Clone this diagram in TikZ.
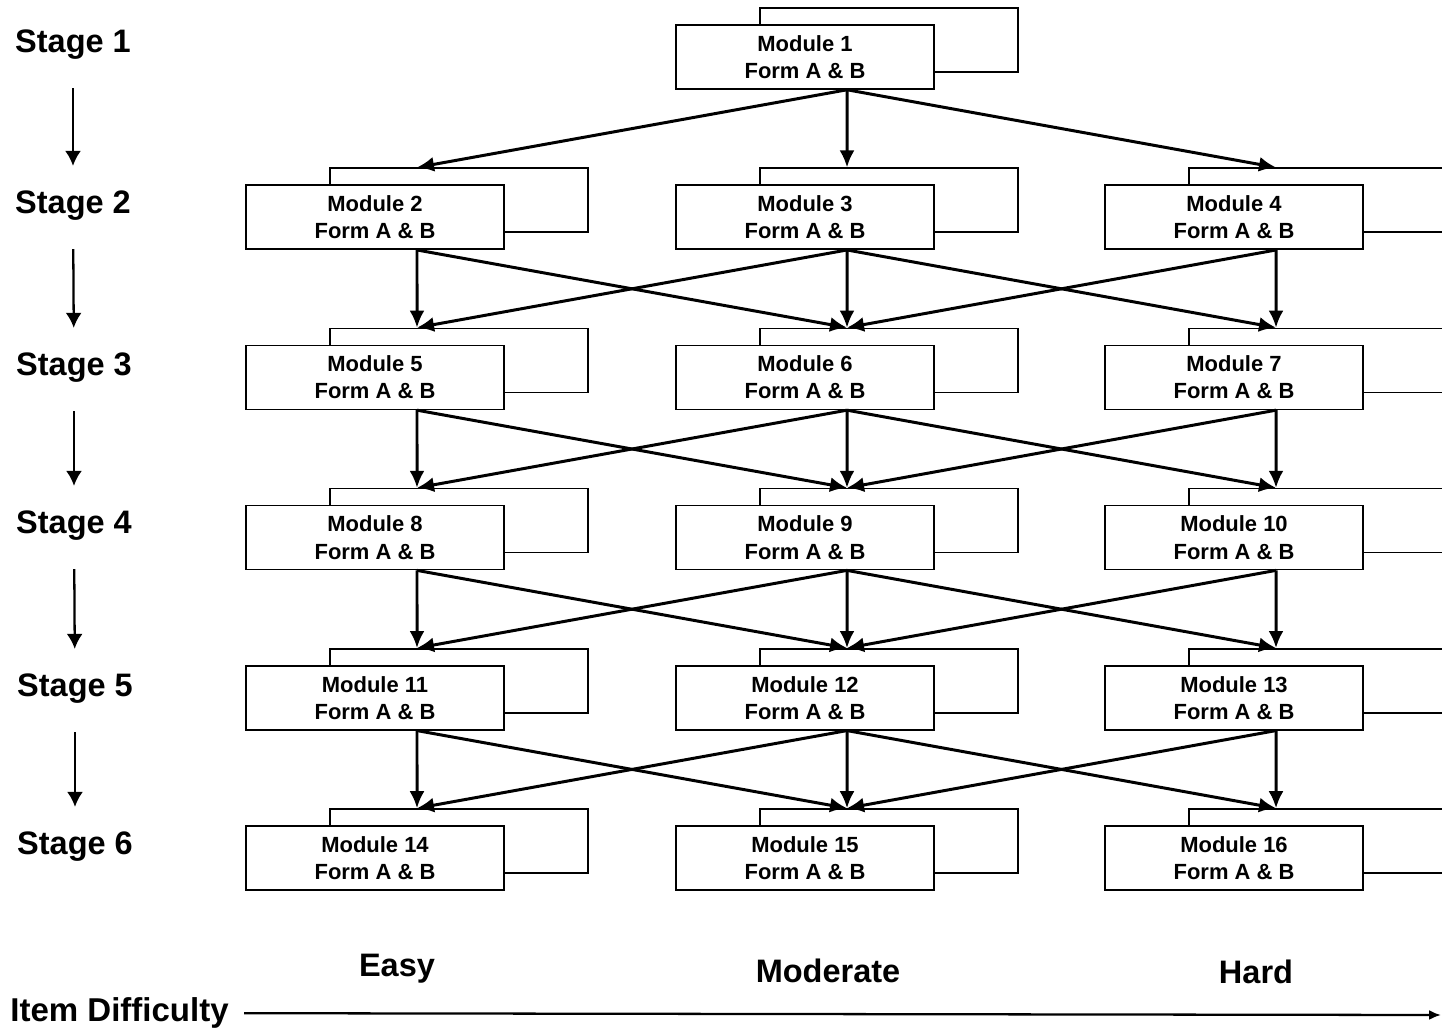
\documentclass[tikz,border=0pt]{standalone}
\usepackage{fontspec}
\setmainfont{Liberation Sans}
\usetikzlibrary{arrows.meta}

\tikzset{
	back/.style={draw,line width=0.9pt,minimum width=5.16cm,minimum height=1.28cm,inner sep=0pt},
	front/.style={back,fill=white,align=center,font=\bfseries\fontsize{12.5}{15.5}\selectfont},
	route/.style={-{Latex[length=0.34cm,width=0.3cm]},line width=1.7pt},
	stagelabel/.style={inner sep=0pt,font=\bfseries\fontsize{18.5}{20}\selectfont},
	stagearrow/.style={-{Latex[length=0.3cm,width=0.32cm]},line width=1.3pt,shorten <=0.56cm,shorten >=0.5cm},
	difflabel/.style={inner sep=0pt,font=\bfseries\fontsize{18.5}{20}\selectfont}
}

\begin{document}
\begin{tikzpicture}[x=0.02cm,y=-0.02cm]
	\useasboundingbox (0,0) rectangle (1442,1030);
	\clip (0,0) rectangle (1442,1030);

	% Draw module 1
	\node[back] (b1) at (889,40) {};
	\node[front] (m1) at (805,57) {Module 1\\Form A \& B};
	\coordinate (out1) at ([xshift=0.84cm]m1.south);

	% Draw modules 2 to 16
	\foreach \r in {2,...,6} {
		\foreach \c/\x in {1/375,2/805,3/1234} {
			\pgfmathtruncatemacro{\n}{3*\r+\c-5}
			\pgfmathsetmacro{\y}{57+160.2*(\r-1)}
			\node[back] (b\n) at (\x+84,\y-17) {};
			\node[front] (m\n) at (\x,\y) {Module \n\\Form A \& B};
			\coordinate (in\n) at ([xshift=-0.84cm]b\n.north);
			\coordinate (out\n) at ([xshift=0.84cm]m\n.south);
		}
	}

	% Routes from stage 1 to stage 2
	\foreach \t in {2,3,4} \draw[route] (out1) -- (in\t);

	% Routes between later stages
	\foreach \r in {2,...,5} {
		\foreach \a/\b in {0/0,0/1,1/0,1/1,1/2,2/1,2/2} {
			\pgfmathtruncatemacro{\src}{3*\r-4+\a}
			\pgfmathtruncatemacro{\dst}{3*\r-1+\b}
			\draw[route] (out\src) -- (in\dst);
		}
	}

	% Stage labels
	\node[stagelabel] (s1) at (73,45) {Stage 1};
	\node[stagelabel] (s2) at (73,206) {Stage 2};
	\node[stagelabel] (s3) at (74,368) {Stage 3};
	\node[stagelabel] (s4) at (74,526) {Stage 4};
	\node[stagelabel] (s5) at (75,689) {Stage 5};
	\node[stagelabel] (s6) at (75,847) {Stage 6};
	\draw[stagearrow] (s1) -- (s2);
	\draw[stagearrow] (s2) -- (s3);
	\draw[stagearrow] (s3) -- (s4);
	\draw[stagearrow] (s4) -- (s5);
	\draw[stagearrow] (s5) -- (s6);

	% Item difficulty axis
	\node[difflabel] (easy) at (397,969) {Easy};
	\node[difflabel] (moderate) at (828,971) {Moderate};
	\node[difflabel] (hard) at (1256,972) {Hard};
	\node[difflabel,anchor=west,font=\bfseries\fontsize{18.8}{21}\selectfont] (item) at (10,1013) {Item Difficulty};
	\coordinate (axisend) at (1441,1015);
	\draw[-{Latex[length=0.24cm,width=0.2cm]},line width=1.3pt,shorten <=0.3cm] (item) -- (axisend);
\end{tikzpicture}
\end{document}
